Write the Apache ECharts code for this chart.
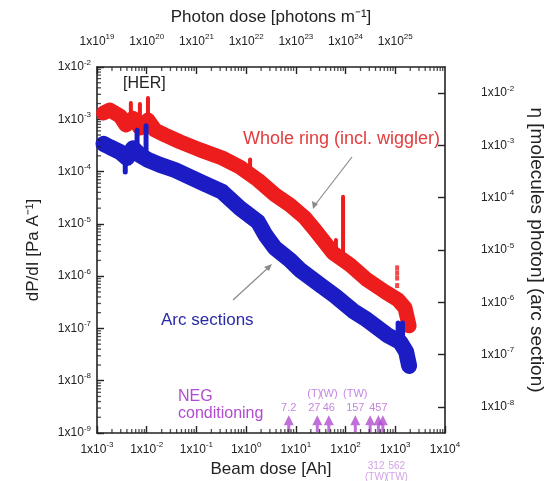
<!DOCTYPE html>
<html>
<head>
<meta charset="utf-8">
<script src="https://cdn.jsdelivr.net/npm/echarts@6/dist/echarts.min.js"></script>
<style>
  html, body { margin: 0; padding: 0; background: #fff; }
  #chart { width: 553px; height: 481px; }
</style>
</head>
<body>
<div id="chart"></div>
<script>
// whole ring (red) : beam dose [Ah] vs dP/dI [Pa/A]
var redDose = [1.35e-3, 1.8e-3, 2.9e-3, 3.8e-3, 5.3e-3, 7.3e-3, 1.06e-2, 1.47e-2, 2.33e-2, 4.7e-2, 0.118, 0.33, 0.75, 1.73, 3.8, 7.6, 15.3, 24.3, 56, 123, 271, 624, 1140, 1570, 1900];
var redP = [1.32e-3, 1.5e-3, 1.16e-3, 7.8e-4, 1.05e-3, 6.8e-4, 9.7e-4, 6.2e-4, 5.0e-4, 3.7e-4, 2.6e-4, 1.82e-4, 1.22e-4, 6.9e-5, 3.6e-5, 2.3e-5, 1.3e-5, 7.6e-6, 2.78e-6, 1.64e-6, 8.5e-7, 5.0e-7, 3.5e-7, 2.47e-7, 1.12e-7];
// spikes: [dose, from, to]
var redSpikes = [[4.8e-3, 1.05e-3, 2.05e-3], [7.3e-3, 7e-4, 1.96e-3], [1.06e-2, 9.7e-4, 2.55e-3], [1.2, 1.0e-4, 1.7e-4], [64, 2.5e-6, 4.9e-6], [89, 2.2e-6, 3.3e-5]];
var redDotsDose = [1090, 1090, 1090, 1090];
var redDotsP = [1.44e-6, 1.15e-6, 9.2e-7, 6.6e-7];

// arc sections (blue)
var blueDose = [1.35e-3, 1.8e-3, 2.9e-3, 4.0e-3, 5.3e-3, 7.3e-3, 1.06e-2, 1.85e-2, 3.7e-2, 7.4e-2, 0.149, 0.33, 0.75, 1.73, 2.5, 3.8, 7.6, 12.2, 30.7, 61.5, 142, 271, 684, 1250, 1650, 1900];
var blueP = [3.4e-4, 2.95e-4, 2.37e-4, 1.82e-4, 2.8e-4, 2.07e-4, 1.67e-4, 1.34e-4, 1.07e-4, 7.9e-5, 5.8e-5, 4.1e-5, 2.0e-5, 1.09e-5, 5.9e-6, 3.46e-6, 2.04e-6, 1.31e-6, 6.8e-7, 4.2e-7, 2.16e-7, 1.46e-7, 7.5e-8, 5.5e-8, 3.6e-8, 1.92e-8];
var blueSpikes = [[3.7e-3, 1.9e-4, 9.8e-5], [6.4e-3, 1.9e-4, 6.2e-4], [9.7e-3, 1.67e-4, 7.5e-4], [1140, 5.5e-8, 1.27e-7], [1400, 4.6e-8, 1.27e-7]];

// NEG conditioning marks
var negDose = [7.2, 27, 46, 157, 312, 457, 562];
var negTop = ['7.2', '(T)\n27', '(W)\n46', '(TW)\n157', '', '457', ''];
var negBottom = ['', '', '', '', '312\n(TW)', '', '562\n(TW)'];
var negLevel = 1.5e-9;

// tick decades
var beamDecades = [-3, -2, -1, 0, 1, 2, 3, 4];
var photonDecades = [19, 20, 21, 22, 23, 24, 25, 26];
var dpDecades = [-9, -8, -7, -6, -5, -4, -3, -2];
var etaDecades = [-8, -7, -6, -5, -4, -3, -2];

var FONT = 'Liberation Sans, Arial, sans-serif';
var INK = '#222';
var PURPLE = '#b24bd0';
var RED = '#ee1d1d';
var BLUE = '#1c1cc4';

function pow10(list) { return list.map(function (e) { return Math.pow(10, e); }); }
function minors(list) {
  var out = [];
  for (var i = 0; i < list.length - 1; i++) {
    for (var m = 2; m <= 9; m++) out.push(m * Math.pow(10, list[i]));
  }
  return out;
}
function sci(v) {
  var e = Math.round(Math.log10(v));
  return '{m|1x10}{e|' + e + '}';
}
var sciRich = {
  m: { fontSize: 12, fontFamily: FONT, color: INK },
  e: { fontSize: 8, fontFamily: FONT, color: INK, padding: [0, 0, 9, 0] }
};
function pairs(xs, ys) { return xs.map(function (x, i) { return [x, ys[i]]; }); }
function spikeData(list) {
  var out = [];
  list.forEach(function (s) { out.push([s[0], s[1]], [s[0], s[2]], null); });
  return out;
}
function tickOpt(values) {
  return { show: true, inside: true, length: 7, lineStyle: { color: INK, width: 1.4 }, customValues: values };
}

function axis(extra) {
  var base = {
    type: 'log', logBase: 10,
    axisLine: { lineStyle: { color: INK, width: 1.6 } },
    splitLine: { show: false },
    nameTextStyle: { fontFamily: FONT, fontSize: 17, color: INK },
    nameLocation: 'middle'
  };
  for (var k in extra) base[k] = extra[k];
  return base;
}
// minor ticks (2..9 of each decade) drawn as small marks on the axis lines
function minorTicks(xAxisIndex, pts, size, offset) {
  return {
    type: 'scatter', xAxisIndex: xAxisIndex, symbol: 'rect', symbolSize: size, symbolOffset: offset,
    data: pts, itemStyle: { color: INK }, clip: false, silent: true, z: 6
  };
}

var chart = echarts.init(document.getElementById('chart'));

var bottomShift = [0, 0, 0, 0, 6, 0, 14];
var negData = negDose.map(function (d, i) {
  var item = { value: [d, negLevel] };
  if (negTop[i]) item.label = { show: true, position: 'top', distance: 0, formatter: negTop[i], offset: [i === 1 ? -3 : 0, 0] };
  if (negBottom[i]) item.label = { show: true, position: 'bottom', distance: 28, formatter: negBottom[i], color: '#c58be0', fontSize: 10, lineHeight: 11, offset: [bottomShift[i], 0] };
  return item;
});

var option = {
  backgroundColor: '#fff',
  animation: false,
  textStyle: { fontFamily: FONT },
  grid: { left: 97, right: 108, top: 67, bottom: 48, outerBoundsMode: 'none' },
  xAxis: [
    axis({
      position: 'bottom', min: 1e-3, max: 1e4,
      name: 'Beam dose [Ah]', nameGap: 24,
      axisTick: tickOpt(pow10(beamDecades)),
      axisLabel: { formatter: sci, rich: sciRich, margin: 8, customValues: pow10(beamDecades) }
    }),
    axis({
      position: 'top', min: 1e19, max: 1e26,
      name: 'Photon dose [photons m\u207B\u00B9]', nameGap: 41,
      axisTick: tickOpt(pow10(photonDecades)),
      axisLabel: { formatter: sci, rich: sciRich, margin: 17, customValues: pow10(photonDecades.slice(0, 7)) }
    })
  ],
  yAxis: [
    axis({
      position: 'left', min: 1e-9, max: 1e-2,
      name: 'dP/dI [Pa A\u207B\u00B9]', nameGap: 55, nameRotate: 90,
      axisTick: tickOpt(pow10(dpDecades)),
      axisLabel: { formatter: sci, rich: sciRich, margin: 6, customValues: pow10(dpDecades) }
    }),
    axis({
      position: 'right', min: Math.pow(10, -8.5), max: Math.pow(10, -1.5),
      name: '\u03B7 [molecules photon] (arc section)', nameGap: 82, nameRotate: -90,
      nameTextStyle: { fontFamily: FONT, fontSize: 19, color: INK },
      axisTick: tickOpt(pow10(etaDecades)),
      axisLabel: { formatter: sci, rich: sciRich, margin: 36, customValues: pow10(etaDecades) }
    })
  ],
  series: [
    {
      name: 'Whole ring', type: 'line', symbol: 'none',
      data: pairs(redDose, redP),
      lineStyle: { color: RED, width: 15, cap: 'round', join: 'round' }, z: 3
    },
    {
      type: 'line', symbol: 'none', connectNulls: false,
      data: spikeData(redSpikes),
      lineStyle: { color: RED, width: 4, cap: 'round' }, z: 3
    },
    {
      type: 'scatter', symbol: 'rect', symbolSize: [4, 5],
      data: pairs(redDotsDose, redDotsP),
      itemStyle: { color: RED }, z: 3
    },
    {
      name: 'Arc sections', type: 'line', symbol: 'none',
      data: pairs(blueDose, blueP),
      lineStyle: { color: BLUE, width: 16, cap: 'round', join: 'round' }, z: 4
    },
    {
      type: 'line', symbol: 'none', connectNulls: false,
      data: spikeData(blueSpikes),
      lineStyle: { color: BLUE, width: 5, cap: 'round' }, z: 4
    },
    {
      name: 'NEG conditioning', type: 'scatter',
      symbol: 'path://M5,0 L10,10 L6.5,10 L6.5,17 L3.5,17 L3.5,10 L0,10 Z',
      symbolSize: [10, 17],
      data: negData,
      itemStyle: { color: PURPLE },
      label: { color: '#b866d8', fontSize: 11, fontFamily: FONT, lineHeight: 14 },
      z: 5
    },
    minorTicks(0, minors(beamDecades).map(function (v) { return [v, 1e-9]; }), [1.3, 4], [0, -2]),
    minorTicks(1, minors(photonDecades).map(function (v) { return [v, 1e-2]; }), [1.3, 4], [0, 2]),
    minorTicks(0, minors(dpDecades).map(function (v) { return [1e-3, v]; }), [4, 1.3], [2, 0])
  ],
  graphic: [
    { type: 'text', left: 123, top: 76, style: { text: '[HER]', font: '16px ' + FONT, fill: INK } },
    { type: 'text', left: 243, top: 130, style: { text: 'Whole ring (incl. wiggler)', font: '18px ' + FONT, fill: '#e43c3c' } },
    { type: 'line', shape: { x1: 352, y1: 157, x2: 315, y2: 205 }, style: { stroke: '#8a8a8a', lineWidth: 1.2 } },
    { type: 'polygon', shape: { points: [[313, 209], [312, 201], [318, 204]] }, style: { fill: '#8a8a8a' } },
    { type: 'text', left: 161, top: 312, style: { text: 'Arc sections', font: '17px ' + FONT, fill: '#2a2aa8' } },
    { type: 'line', shape: { x1: 233, y1: 300, x2: 269, y2: 267 }, style: { stroke: '#8a8a8a', lineWidth: 1.2 } },
    { type: 'polygon', shape: { points: [[272, 264], [264, 267], [269, 271]] }, style: { fill: '#8a8a8a' } },
    { type: 'text', left: 178, top: 388, style: { text: 'NEG\nconditioning', font: '16px ' + FONT, fill: PURPLE, lineHeight: 17 } }
  ]
};

chart.setOption(option);
</script>
</body>
</html>
